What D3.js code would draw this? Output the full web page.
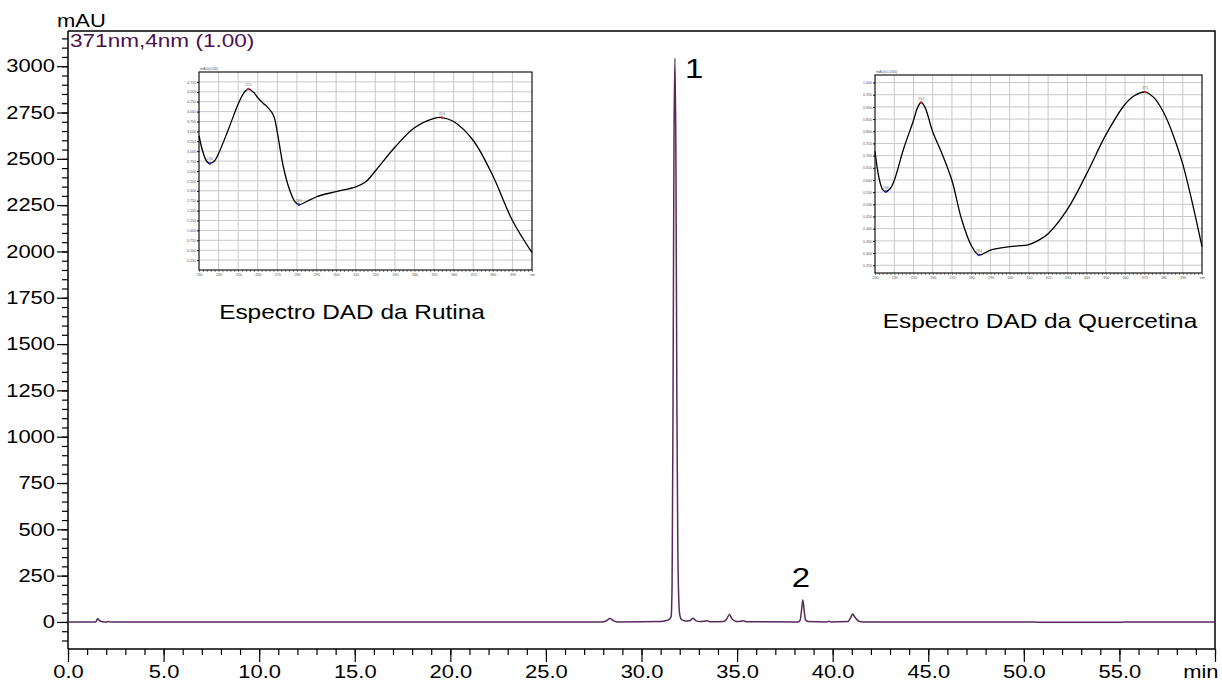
<!DOCTYPE html>
<html>
<head>
<meta charset="utf-8">
<script src="https://cdn.jsdelivr.net/npm/d3@7"></script>
<style>
  html, body { margin: 0; padding: 0; background: #fff; }
  svg { display: block; font-family: "Liberation Sans", Arial, sans-serif; }
</style>
</head>
<body>
<svg id="chart" width="1222" height="681"></svg>
<script>
// chromatogram at 371 nm: [time (min), mAU]
const chromatogram = [
  [0, 0], [1.45, 0], [1.55, 17], [1.65, 8], [1.75, 2], [1.9, 0], [2.0, -1], [2.1, 3], [2.2, 0],
  [27.9, 0], [28.15, 5], [28.35, 18], [28.55, 6], [28.8, 0],
  [31.0, 2], [31.3, 8], [31.45, 14], [31.55, 30], [31.6, 200], [31.65, 1200], [31.7, 2600],
  [31.75, 3043], [31.8, 2500], [31.85, 1200], [31.9, 400], [31.95, 120], [32.0, 40], [32.1, 12],
  [32.3, 5], [32.55, 8], [32.7, 20], [32.85, 6], [33.1, 2], [33.3, 4], [33.45, 6], [33.6, 1],
  [34.3, 2], [34.45, 15], [34.6, 40], [34.75, 14], [34.95, 3], [35.1, 2], [35.3, 6], [35.5, 1],
  [38.2, 0], [38.3, 10], [38.38, 70], [38.44, 119], [38.5, 70], [38.58, 12], [38.7, 2],
  [39.7, 0], [39.8, 4], [39.9, 0], [40.8, 2], [40.95, 25], [41.05, 43], [41.15, 28], [41.35, 5],
  [41.6, 0], [50.6, 0], [50.7, -2], [55.0, -2], [55.2, 0], [60, 0]
];

const peakLabels = [
  { label: '1', t: 31.75, v: 3043 },
  { label: '2', t: 38.44, v: 119 }
];

const xMajorTicks = [0, 5, 10, 15, 20, 25, 30, 35, 40, 45, 50, 55];
const yMajorTicks = [0, 250, 500, 750, 1000, 1250, 1500, 1750, 2000, 2250, 2500, 2750, 3000];

// DAD spectra: [wavelength (nm), absorbance]
const rutinaSpectrum = [
  [230, 3.39], [232, 2.98], [234, 2.74], [235.6, 2.69], [238, 2.76], [240, 2.94], [245, 3.55],
  [250, 4.19], [253, 4.48], [255.2, 4.57], [258, 4.48], [260, 4.35], [263, 4.2], [265, 4.11],
  [268, 3.91], [270, 3.47], [273, 2.62], [276, 2.06], [279, 1.72], [281, 1.65], [285, 1.73],
  [290, 1.85], [300, 1.98], [310, 2.1], [315, 2.22], [320, 2.5], [330, 3.1], [340, 3.59],
  [350, 3.83], [354, 3.85], [360, 3.75], [370, 3.27], [380, 2.38], [390, 1.25], [400, 0.44]
];
const rutinaMarks = [
  { wl: 235.6, a: 2.69, kind: 'min' }, { wl: 255.2, a: 4.57, kind: 'max' },
  { wl: 281, a: 1.65, kind: 'min' }, { wl: 354, a: 3.85, kind: 'max' }
];
const rutinaTicks = d3.range(0.25, 4.76, 0.25);

const quercetinaSpectrum = [
  [230, 0.718], [232, 0.612], [234, 0.56], [235.6, 0.552], [238, 0.565], [240, 0.598],
  [245, 0.731], [250, 0.844], [252, 0.895], [254, 0.918], [256, 0.898], [260, 0.798],
  [265, 0.705], [270, 0.598], [275, 0.439], [280, 0.332], [284, 0.292], [290, 0.312],
  [300, 0.326], [310, 0.335], [315, 0.352], [320, 0.379], [330, 0.479], [340, 0.625],
  [350, 0.785], [360, 0.911], [365, 0.947], [370.5, 0.961], [375, 0.938], [380, 0.878],
  [385, 0.785], [390, 0.665], [395, 0.505], [400, 0.326]
];
const quercetinaMarks = [
  { wl: 235.6, a: 0.552, kind: 'min' }, { wl: 254, a: 0.918, kind: 'max' },
  { wl: 284, a: 0.292, kind: 'min' }, { wl: 370.5, a: 0.961, kind: 'max' }
];
const quercetinaTicks = d3.range(0.25, 1.001, 0.05);

const wavelengthTicks = d3.range(230, 401, 10);

const SX = 1.22;           // the original text is a bit wider than Arial
const lineColor = '#582a5c';
const titleColor = '#4a1250';

const svg = d3.select('#chart');
svg.append('rect').attr('width', 1222).attr('height', 681).attr('fill', '#fff');

const box = { left: 68, right: 1215, top: 31, bottom: 649 };

const x = d3.scaleLinear().domain([0, 60]).range([box.left, box.right]);
const y = d3.scaleLinear().domain([-146, 3190]).range([box.bottom, box.top]);

// wide text helper
function wideText(parent, tx, ty, str, size, anchor = 'start', fill = '#000') {
  return parent.append('text')
    .attr('transform', `translate(${tx},${ty}) scale(${SX},1)`)
    .attr('text-anchor', anchor)
    .attr('font-size', size)
    .attr('fill', fill)
    .text(str);
}

function stretchLabels(axisG) {
  axisG.selectAll('text').each(function () {
    const t = d3.select(this);
    const xv = +t.attr('x') || 0;
    t.attr('x', xv / SX).attr('transform', `scale(${SX},1)`);
  });
}

// frame (top + right)
svg.append('path')
  .attr('d', `M${box.left},${box.top}H${box.right}V${box.bottom}`)
  .attr('fill', 'none').attr('stroke', '#000').attr('stroke-width', 1.5);

// y axis: minor + major
svg.append('g')
  .attr('transform', `translate(${box.left},0)`)
  .call(d3.axisLeft(y).tickValues(d3.range(-100, 3190, 50)).tickSize(6).tickFormat(''))
  .call(g => g.select('.domain').remove())
  .call(g => g.selectAll('line').attr('stroke', '#000').attr('stroke-width', 1.2));

const yAxis = svg.append('g')
  .attr('transform', `translate(${box.left},0)`)
  .call(d3.axisLeft(y).tickValues(yMajorTicks).tickSize(11).tickPadding(2).tickFormat(d3.format('d')))
  .call(g => g.select('.domain').attr('stroke-width', 1.5).attr('d', `M0,${box.top}V${box.bottom}`))
  .call(g => g.selectAll('line').attr('stroke-width', 1.2))
  .call(g => g.selectAll('text').attr('font-size', 18).attr('fill', '#000').attr('font-family', null));
stretchLabels(yAxis);

// x axis: minor + major
svg.append('g')
  .attr('transform', `translate(0,${box.bottom})`)
  .call(d3.axisBottom(x).tickValues(d3.range(0, 61, 1)).tickSize(6).tickFormat(''))
  .call(g => g.select('.domain').remove())
  .call(g => g.selectAll('line').attr('stroke', '#000').attr('stroke-width', 1.2));

const xAxis = svg.append('g')
  .attr('transform', `translate(0,${box.bottom})`)
  .call(d3.axisBottom(x).tickValues(xMajorTicks.concat([60])).tickSize(13).tickPadding(3)
    .tickFormat(d => d === 60 ? 'min' : d3.format('.1f')(d)))
  .call(g => g.select('.domain').attr('stroke-width', 1.5).attr('d', `M${box.left},0H${box.right}`))
  .call(g => g.selectAll('line').attr('stroke-width', 1.2))
  .call(g => g.selectAll('text').attr('font-size', 18).attr('fill', '#000').attr('font-family', null));
stretchLabels(xAxis);
// "min" sits flush with the right end
xAxis.selectAll('text').filter(d => d === 60).attr('text-anchor', 'end').attr('x', 3 / SX);

// unit + channel labels
wideText(svg, 57, 27, 'mAU', 18);
wideText(svg, 70, 47, '371nm,4nm (1.00)', 18.5, 'start', titleColor);

// chromatogram trace
svg.append('path')
  .datum(chromatogram)
  .attr('fill', 'none')
  .attr('stroke', lineColor)
  .attr('stroke-width', 1.5)
  .attr('stroke-linejoin', 'round')
  .attr('d', d3.line().x(d => x(d[0])).y(d => y(d[1])).curve(d3.curveMonotoneX));

// peak numbers
peakLabels.forEach((p, i) => {
  if (i === 0) wideText(svg, x(p.t) + 10, y(p.v) + 20, p.label, 27, 'start');
  else wideText(svg, x(p.t) - 2, y(p.v) - 13, p.label, 27, 'middle');
});

// ---------- DAD spectrum insets ----------
function drawInset(opts) {
  const { left, top, w, h, domainY, ticksY, data, marks, unit, caption, capX, capY } = opts;
  const g = svg.append('g').attr('class', 'inset');
  const ix = d3.scaleLinear().domain([230, 400]).range([left, left + w]);
  const iy = d3.scaleLinear().domain(domainY).range([top + h, top]);

  // grid
  g.append('g').selectAll('line.v').data(wavelengthTicks.slice(1, -1)).join('line')
    .attr('x1', d => ix(d)).attr('x2', d => ix(d)).attr('y1', top).attr('y2', top + h)
    .attr('stroke', '#c8c8c8').attr('stroke-width', 1);
  g.append('g').selectAll('line.h').data(ticksY).join('line')
    .attr('x1', left).attr('x2', left + w).attr('y1', d => iy(d)).attr('y2', d => iy(d))
    .attr('stroke', '#c8c8c8').attr('stroke-width', 1);

  // axes (tiny)
  g.append('g').attr('transform', `translate(${left},0)`)
    .call(d3.axisLeft(iy).tickValues(ticksY).tickSize(2).tickPadding(1).tickFormat(d3.format('.3f')))
    .call(a => a.select('.domain').remove())
    .call(a => a.selectAll('text').attr('font-size', 3.6).attr('fill', '#555').attr('font-family', null));
  g.append('g').attr('transform', `translate(0,${top + h})`)
    .call(d3.axisBottom(ix).tickValues(d3.range(230, 401, 2)).tickSize(2).tickFormat(''))
    .call(a => a.select('.domain').remove())
    .call(a => a.selectAll('line').attr('stroke', '#333').attr('stroke-width', 0.6));
  g.append('g').attr('transform', `translate(0,${top + h})`)
    .call(d3.axisBottom(ix).tickValues(wavelengthTicks).tickSize(0).tickPadding(3)
      .tickFormat(d => d === 400 ? 'nm' : d3.format('d')(d)))
    .call(a => a.select('.domain').remove())
    .call(a => a.selectAll('text').attr('font-size', 3.6).attr('fill', '#555').attr('font-family', null));
  g.append('text').attr('x', left + 1).attr('y', top - 2)
    .attr('font-size', 3.6).attr('fill', '#555').text(unit);

  // frame
  g.append('rect').attr('x', left).attr('y', top).attr('width', w).attr('height', h)
    .attr('fill', 'none').attr('stroke', '#000').attr('stroke-width', 1.1);

  // spectrum
  g.append('path').datum(data)
    .attr('fill', 'none').attr('stroke', '#000').attr('stroke-width', 1.3)
    .attr('d', d3.line().x(d => ix(d[0])).y(d => iy(d[1])).curve(d3.curveCatmullRom.alpha(0.5)));

  // peak / valley markers
  const m = g.append('g').selectAll('g').data(marks).join('g')
    .attr('transform', d => `translate(${ix(d.wl)},${iy(d.a)})`);
  m.append('circle').attr('r', 1.3).attr('fill', d => d.kind === 'max' ? '#e02020' : '#2030d0');
  m.append('text').attr('y', -3).attr('text-anchor', 'middle').attr('font-size', 3.8)
    .attr('fill', '#777').text(d => Math.round(d.wl));

  wideText(svg, capX, capY, caption, 20, 'middle');
}

drawInset({
  left: 199, top: 72, w: 333, h: 198, domainY: [0, 5], ticksY: rutinaTicks,
  data: rutinaSpectrum, marks: rutinaMarks, unit: 'mAU(x100)',
  caption: 'Espectro DAD da Rutina', capX: 352, capY: 319
});

drawInset({
  left: 875, top: 75, w: 327, h: 198, domainY: [0.218, 1.031], ticksY: quercetinaTicks,
  data: quercetinaSpectrum, marks: quercetinaMarks, unit: 'mAU(x1,000)',
  caption: 'Espectro DAD da Quercetina', capX: 1040, capY: 328
});
</script>
</body>
</html>
